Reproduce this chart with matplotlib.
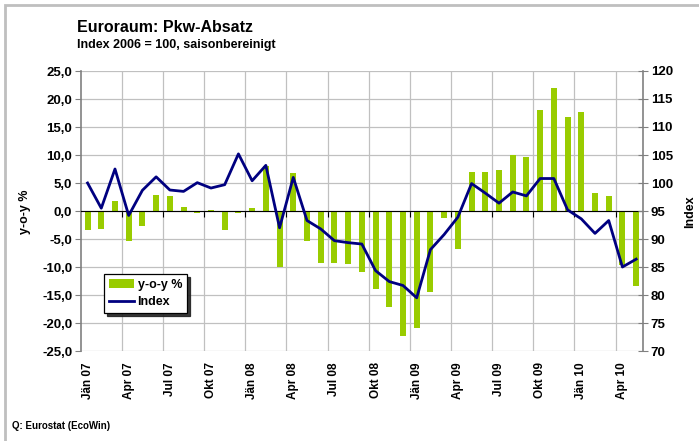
import matplotlib
matplotlib.use("Agg")
import matplotlib.pyplot as plt
from matplotlib.patches import Rectangle
from matplotlib.ticker import FuncFormatter, FixedLocator
import matplotlib.transforms as mtransforms

plt.rcParams['font.family'] = ['Liberation Sans', 'DejaVu Sans']
plt.rcParams['font.weight'] = 'bold'

months = ["Jän 07", "Feb 07", "Mär 07", "Apr 07", "Mai 07", "Jun 07", "Jul 07", "Aug 07", "Sep 07",
          "Okt 07", "Nov 07", "Dez 07", "Jän 08", "Feb 08", "Mär 08", "Apr 08", "Mai 08", "Jun 08",
          "Jul 08", "Aug 08", "Sep 08", "Okt 08", "Nov 08", "Dez 08", "Jän 09", "Feb 09", "Mär 09",
          "Apr 09", "Mai 09", "Jun 09", "Jul 09", "Aug 09", "Sep 09", "Okt 09", "Nov 09", "Dez 09",
          "Jän 10", "Feb 10", "Mär 10", "Apr 10", "Mai 10"]

yoy = [-3.45, -3.3, 1.7, -5.4, -2.7, 2.9, 2.6, 0.8, -0.4, 0.1, -3.45, -0.3, 0.6, 8.1,
       -10.05, 6.85, -5.4, -9.2, -9.2, -9.4, -10.95, -14.0, -17.2, -22.4, -20.95, -14.5,
       -1.3, -6.85, 7.0, 6.9, 7.4, 10.06, 9.7, 18.1, 22.0, 16.7, 17.7, 3.3, 2.7, -9.6, -13.45]

index = [100.0, 95.5, 102.5, 94.2, 98.7, 101.1, 98.75, 98.5, 100.06, 99.1, 99.7, 105.2,
         100.4, 103.15, 92.0, 101.0, 93.3, 91.8, 89.7, 89.35, 89.1, 84.35, 82.4, 81.7, 79.5,
         88.1, 90.8, 93.9, 99.9, 98.2, 96.4, 98.4, 97.7, 100.8, 100.8, 95.2, 93.6, 91.0, 93.3,
         85.0, 86.4]

W, H = 699, 441
fig = plt.figure(figsize=(W / 100, H / 100), dpi=100)

L, R, T, B = 80.7, 643, 71, 351
ax = fig.add_axes([L / W, 1 - B / H, (R - L) / W, (B - T) / H])
ax2 = ax.twinx()

x = list(range(len(months)))
bar_color = '#99cc00'
line_color = '#000080'
grid_color = '#c0c0c0'

ax.set_xlim(-0.5, len(months) - 0.5)
ax.set_ylim(-25, 25)
ax2.set_ylim(70, 120)

# grid
ax.set_yticks([-25, -20, -15, -10, -5, 0, 5, 10, 15, 20, 25])
ax.yaxis.grid(True, color=grid_color, lw=0.9)
bounds = [i + 2.5 for i in range(0, len(months) - 3, 3)]
ax.xaxis.set_minor_locator(FixedLocator(bounds))
ax.xaxis.grid(True, which='minor', color=grid_color, lw=0.9)
ax.set_axisbelow(True)

bars = ax.bar(x, yoy, width=0.43, color=bar_color, zorder=2, label='y-o-y %')
line, = ax2.plot(x, index, color=line_color, lw=2.0, zorder=3, label='Index')

# spines
ax.spines['top'].set_visible(False)
ax2.spines['top'].set_visible(False)
ax2.spines['bottom'].set_visible(False)
ax.spines['bottom'].set_position(('data', 0))
ax.spines['bottom'].set_color('black')
ax.spines['bottom'].set_linewidth(0.8)
ax.spines['bottom'].set_zorder(2.5)
ax.spines['left'].set_color('#808080')
ax.spines['left'].set_linewidth(1.2)
ax.spines['right'].set_visible(False)
ax2.spines['left'].set_visible(False)
ax2.spines['right'].set_color('#808080')
ax2.spines['right'].set_linewidth(1.2)

# x ticks: minor ticks on zero line, labels at bottom
ax.set_xticks([])
ax.tick_params(axis='x', which='minor', direction='out', length=4, color='black', width=0.8)
trans = mtransforms.blended_transform_factory(ax.transData, ax.transAxes)
for i in range(0, len(months), 3):
    ax.text(i, -0.04, months[i], rotation=90, ha='center', va='top',
            fontsize=8.5, fontweight='bold', transform=trans)

ax.yaxis.set_major_formatter(FuncFormatter(lambda v, p: f"{v:.1f}".replace('.', ',')))
ax.tick_params(axis='y', direction='out', length=4, color='#808080', labelsize=9.5, pad=2)
for lbl in ax.get_yticklabels():
    lbl.set_fontweight('bold')

ax2.set_yticks(list(range(70, 121, 5)))
ax2.tick_params(axis='y', direction='inout', length=7, color='#808080', labelsize=9.5, pad=2)
for lbl in ax2.get_yticklabels():
    lbl.set_fontweight('bold')

fig.text(25 / W, 1 - 212 / H, 'y-o-y %', rotation=90, ha='center', va='center',
         fontsize=9, fontweight='bold')
fig.text(690 / W, 1 - 212 / H, 'Index', rotation=90, ha='center', va='center',
         fontsize=9, fontweight='bold')

fig.text(77 / W, 1 - 32 / H, 'Euroraum: Pkw-Absatz', fontsize=11.5, fontweight='bold',
         ha='left', va='baseline')
fig.text(77 / W, 1 - 48 / H, 'Index 2006 = 100, saisonbereinigt', fontsize=9,
         fontweight='bold', ha='left', va='baseline')
fig.text(12 / W, 1 - 429 / H, 'Q: Eurostat (EcoWin)', fontsize=7, fontweight='bold',
         ha='left', va='baseline')

leg = ax2.legend(handles=[bars, line], labels=['y-o-y %', 'Index'],
                 loc='lower left', bbox_to_anchor=(0.041, 0.136, 0.148, 0.153),
                 mode='expand', fontsize=9, frameon=True, fancybox=False,
                 shadow={'color': '#222222', 'alpha': 0.9},
                 borderpad=0.4, handlelength=2.0, handletextpad=0.3, labelspacing=0.4,
                 borderaxespad=0)
leg.get_frame().set_edgecolor('black')
leg.get_frame().set_linewidth(0.9)
for t in leg.get_texts():
    t.set_fontweight('bold')

# outer frame
fig.patches.append(Rectangle((5 / W, -0.01), 1.0, 1 - 5 / H + 0.01, transform=fig.transFigure,
                             fill=False, edgecolor='#bfbfbf', lw=2))

fig.savefig('out.png', dpi=100)
